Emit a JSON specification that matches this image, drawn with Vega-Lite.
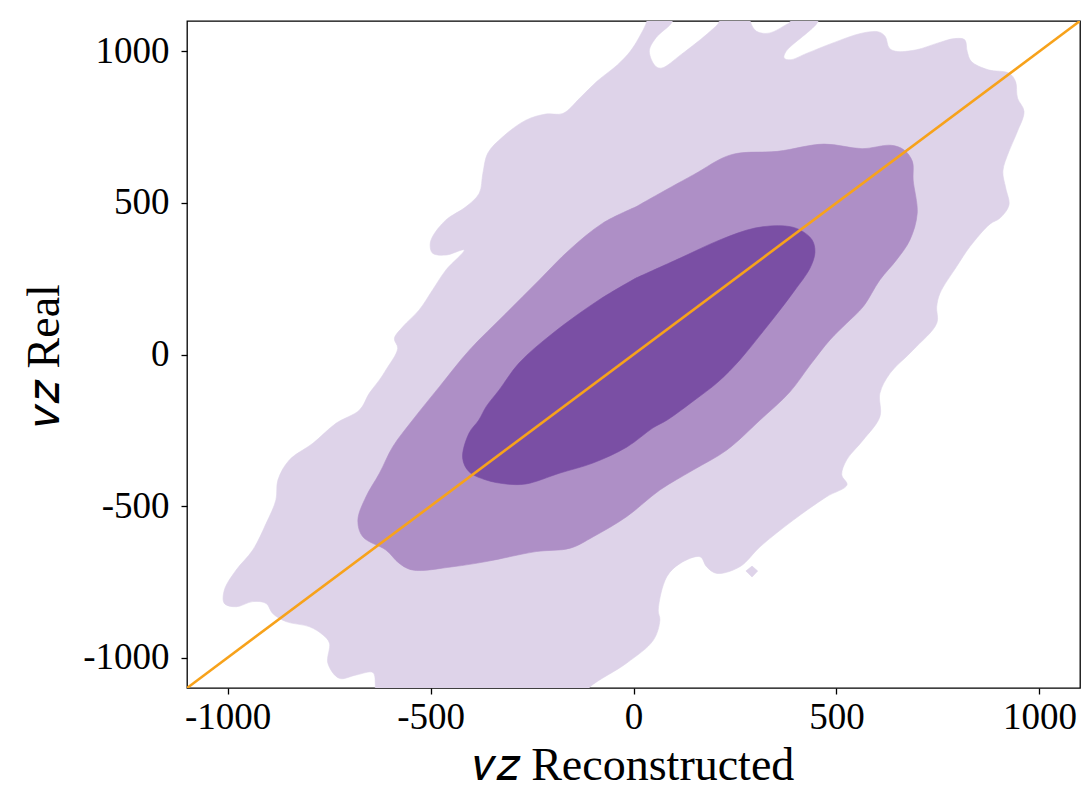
{
"$schema":"https://vega.github.io/schema/vega-lite/v6.json",
"width":893,"height":667,
"autosize":{"type":"none"},
"padding":{"left":187,"top":21,"right":2,"bottom":105},
"background":"white",
"config":{
 "view":{"stroke":"#000","strokeWidth":1.3},
 "axis":{"grid":false,"domain":false,"ticks":true,"tickColor":"#000","tickSize":6,"tickWidth":1.3,"labelFont":"Liberation Serif","labelFontSize":37,"labelColor":"#000","labelFlush":false,"labelOverlap":false,"labelBound":false,"titleFont":"Liberation Serif","titleFontSize":46,"titleFontWeight":"normal","titleColor":"#000"}
},
"datasets":{
"light":[{"i":1,"x":33,"y":1120},{"i":2,"x":95,"y":1120},{"i":3,"x":95,"y":1097},{"i":4,"x":55,"y":1044},{"i":5,"x":39,"y":1000},{"i":6,"x":55,"y":950},{"i":7,"x":70,"y":945},{"i":8,"x":117,"y":989},{"i":9,"x":189,"y":1066},{"i":10,"x":211,"y":1097},{"i":11,"x":211,"y":1120},{"i":12,"x":287,"y":1120},{"i":13,"x":288,"y":1097},{"i":14,"x":303,"y":1066},{"i":15,"x":334,"y":1060},{"i":16,"x":376,"y":1088},{"i":17,"x":386,"y":1097},{"i":18,"x":386,"y":1120},{"i":19,"x":454,"y":1120},{"i":20,"x":454,"y":1097},{"i":21,"x":376,"y":1000},{"i":22,"x":371,"y":978},{"i":23,"x":386,"y":972},{"i":24,"x":428,"y":994},{"i":25,"x":490,"y":1027},{"i":26,"x":563,"y":1060},{"i":27,"x":604,"y":1064},{"i":28,"x":620,"y":1049},{"i":29,"x":630,"y":1011},{"i":30,"x":646,"y":1000},{"i":31,"x":697,"y":1005},{"i":32,"x":749,"y":1027},{"i":33,"x":791,"y":1042},{"i":34,"x":816,"y":1038},{"i":35,"x":822,"y":1000},{"i":36,"x":832,"y":967},{"i":37,"x":874,"y":939},{"i":38,"x":925,"y":928},{"i":39,"x":941,"y":901},{"i":40,"x":946,"y":846},{"i":41,"x":962,"y":802},{"i":42,"x":946,"y":736},{"i":43,"x":925,"y":670},{"i":44,"x":910,"y":605},{"i":45,"x":917,"y":549},{"i":46,"x":925,"y":493},{"i":47,"x":903,"y":450},{"i":48,"x":878,"y":430},{"i":49,"x":829,"y":356},{"i":50,"x":796,"y":290},{"i":51,"x":755,"y":202},{"i":52,"x":747,"y":158},{"i":53,"x":747,"y":103},{"i":54,"x":689,"y":15},{"i":55,"x":632,"y":-62},{"i":56,"x":607,"y":-128},{"i":57,"x":607,"y":-205},{"i":58,"x":566,"y":-282},{"i":59,"x":525,"y":-348},{"i":60,"x":513,"y":-397},{"i":61,"x":526,"y":-430},{"i":62,"x":476,"y":-469},{"i":63,"x":394,"y":-546},{"i":64,"x":312,"y":-634},{"i":65,"x":262,"y":-700},{"i":66,"x":205,"y":-722},{"i":67,"x":180,"y":-700},{"i":68,"x":164,"y":-667},{"i":69,"x":115,"y":-689},{"i":70,"x":82,"y":-733},{"i":71,"x":61,"y":-843},{"i":72,"x":65,"y":-876},{"i":73,"x":49,"y":-942},{"i":74,"x":-17,"y":-1018},{"i":75,"x":-107,"y":-1096},{"i":76,"x":-127,"y":-1130},{"i":77,"x":-637,"y":-1130},{"i":78,"x":-636,"y":-1093},{"i":79,"x":-642,"y":-1049},{"i":80,"x":-683,"y":-1057},{"i":81,"x":-725,"y":-1068},{"i":82,"x":-753,"y":-1018},{"i":83,"x":-749,"y":-952},{"i":84,"x":-765,"y":-925},{"i":85,"x":-798,"y":-898},{"i":86,"x":-856,"y":-881},{"i":87,"x":-889,"y":-854},{"i":88,"x":-905,"y":-821},{"i":89,"x":-938,"y":-815},{"i":90,"x":-979,"y":-832},{"i":91,"x":-1008,"y":-821},{"i":92,"x":-1008,"y":-777},{"i":93,"x":-979,"y":-711},{"i":94,"x":-938,"y":-645},{"i":95,"x":-905,"y":-557},{"i":96,"x":-881,"y":-480},{"i":97,"x":-876,"y":-414},{"i":98,"x":-848,"y":-348},{"i":99,"x":-790,"y":-293},{"i":100,"x":-733,"y":-227},{"i":101,"x":-675,"y":-183},{"i":102,"x":-651,"y":-128},{"i":103,"x":-626,"y":-84},{"i":104,"x":-610,"y":-51},{"i":105,"x":-581,"y":20},{"i":106,"x":-589,"y":53},{"i":107,"x":-568,"y":92},{"i":108,"x":-528,"y":147},{"i":109,"x":-495,"y":213},{"i":110,"x":-462,"y":279},{"i":111,"x":-417,"y":345},{"i":112,"x":-462,"y":328},{"i":113,"x":-495,"y":334},{"i":114,"x":-501,"y":361},{"i":115,"x":-495,"y":389},{"i":116,"x":-462,"y":444},{"i":117,"x":-413,"y":487},{"i":118,"x":-380,"y":532},{"i":119,"x":-371,"y":598},{"i":120,"x":-359,"y":664},{"i":121,"x":-322,"y":718},{"i":122,"x":-265,"y":773},{"i":123,"x":-216,"y":793},{"i":124,"x":-174,"y":795},{"i":125,"x":-132,"y":846},{"i":126,"x":-90,"y":901},{"i":127,"x":-39,"y":956},{"i":128,"x":-8,"y":1000},{"i":129,"x":13,"y":1044},{"i":130,"x":33,"y":1100},{"i":131,"x":33,"y":1120}],
"island":[{"i":1,"x":277,"y":-714},{"i":2,"x":292,"y":-698},{"i":3,"x":306,"y":-714},{"i":4,"x":292,"y":-734},{"i":5,"x":277,"y":-714}],
"mid":[{"i":1,"x":6,"y":487},{"i":2,"x":44,"y":516},{"i":3,"x":148,"y":593},{"i":4,"x":241,"y":659},{"i":5,"x":355,"y":670},{"i":6,"x":469,"y":694},{"i":7,"x":563,"y":679},{"i":8,"x":635,"y":690},{"i":9,"x":666,"y":675},{"i":10,"x":687,"y":637},{"i":11,"x":689,"y":575},{"i":12,"x":699,"y":466},{"i":13,"x":681,"y":378},{"i":14,"x":648,"y":312},{"i":15,"x":607,"y":246},{"i":16,"x":566,"y":158},{"i":17,"x":525,"y":103},{"i":18,"x":484,"y":48},{"i":19,"x":435,"y":-35},{"i":20,"x":385,"y":-124},{"i":21,"x":312,"y":-216},{"i":22,"x":230,"y":-315},{"i":23,"x":147,"y":-381},{"i":24,"x":65,"y":-447},{"i":25,"x":-17,"y":-535},{"i":26,"x":-99,"y":-601},{"i":27,"x":-156,"y":-639},{"i":28,"x":-240,"y":-650},{"i":29,"x":-363,"y":-683},{"i":30,"x":-445,"y":-700},{"i":31,"x":-544,"y":-711},{"i":32,"x":-577,"y":-689},{"i":33,"x":-610,"y":-645},{"i":34,"x":-667,"y":-601},{"i":35,"x":-679,"y":-546},{"i":36,"x":-659,"y":-469},{"i":37,"x":-626,"y":-392},{"i":38,"x":-593,"y":-304},{"i":39,"x":-544,"y":-216},{"i":40,"x":-478,"y":-106},{"i":41,"x":-404,"y":15},{"i":42,"x":-314,"y":136},{"i":43,"x":-232,"y":246},{"i":44,"x":-158,"y":345},{"i":45,"x":-76,"y":433},{"i":46,"x":6,"y":487}],
"dark":[{"i":1,"x":6,"y":252},{"i":2,"x":115,"y":318},{"i":3,"x":213,"y":378},{"i":4,"x":299,"y":417},{"i":5,"x":373,"y":424},{"i":6,"x":410,"y":411},{"i":7,"x":440,"y":378},{"i":8,"x":447,"y":338},{"i":9,"x":435,"y":285},{"i":10,"x":398,"y":213},{"i":11,"x":361,"y":147},{"i":12,"x":312,"y":64},{"i":13,"x":262,"y":-18},{"i":14,"x":208,"y":-91},{"i":15,"x":151,"y":-150},{"i":16,"x":83,"y":-216},{"i":17,"x":48,"y":-242},{"i":18,"x":-16,"y":-305},{"i":19,"x":-100,"y":-358},{"i":20,"x":-181,"y":-391},{"i":21,"x":-265,"y":-427},{"i":22,"x":-314,"y":-427},{"i":23,"x":-363,"y":-414},{"i":24,"x":-405,"y":-387},{"i":25,"x":-421,"y":-341},{"i":26,"x":-405,"y":-259},{"i":27,"x":-381,"y":-216},{"i":28,"x":-363,"y":-172},{"i":29,"x":-331,"y":-117},{"i":30,"x":-282,"y":-28},{"i":31,"x":-198,"y":71},{"i":32,"x":-85,"y":180},{"i":33,"x":6,"y":252}],
"diag":[{"i":1,"x":-1100,"y":-1100},{"i":2,"x":1100,"y":1100}]
},
"layer":[
 {"data":{"name":"light"},
  "mark":{"type":"line","fill":"#ded3e9","stroke":"#ded3e9","strokeWidth":0.6,"clip":true,"interpolate":"catmull-rom"},
  "encoding":{
   "x":{"field":"x","type":"quantitative","scale":{"domain":[-1100,1100],"nice":false,"zero":false},
        "axis":{"values":[-1000,-500,0,500,1000],"labelExpr":"'' + datum.value","labelPadding":5,"title":"𝑣𝑧 Reconstructed","titlePadding":8}},
   "y":{"field":"y","type":"quantitative","scale":{"domain":[-1100,1100],"nice":false,"zero":false},
        "axis":{"values":[-1000,-500,0,500,1000],"labelExpr":"'' + datum.value","labelPadding":12,"title":"𝑣𝑧 Real","titlePadding":14}},
   "order":{"field":"i","type":"quantitative"}}},
 {"data":{"name":"island"},
  "mark":{"type":"line","fill":"#ded3e9","stroke":"#ded3e9","strokeWidth":0.6,"clip":true},
  "encoding":{"x":{"field":"x","type":"quantitative"},"y":{"field":"y","type":"quantitative"},"order":{"field":"i","type":"quantitative"}}},
 {"data":{"name":"mid"},
  "mark":{"type":"line","fill":"#ae8fc6","stroke":"#ae8fc6","strokeWidth":0.6,"clip":true,"interpolate":"catmull-rom"},
  "encoding":{"x":{"field":"x","type":"quantitative"},"y":{"field":"y","type":"quantitative"},"order":{"field":"i","type":"quantitative"}}},
 {"data":{"name":"dark"},
  "mark":{"type":"line","fill":"#7a4fa4","stroke":"#7a4fa4","strokeWidth":0.6,"clip":true,"interpolate":"catmull-rom"},
  "encoding":{"x":{"field":"x","type":"quantitative"},"y":{"field":"y","type":"quantitative"},"order":{"field":"i","type":"quantitative"}}},
 {"data":{"name":"diag"},
  "mark":{"type":"line","stroke":"#f7a21b","strokeWidth":2.6,"clip":true},
  "encoding":{"x":{"field":"x","type":"quantitative"},"y":{"field":"y","type":"quantitative"},"order":{"field":"i","type":"quantitative"}}}
]
}
